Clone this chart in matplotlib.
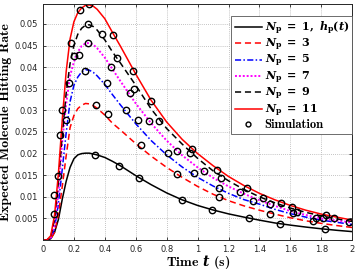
import numpy as np
import matplotlib
matplotlib.use("Agg")
import matplotlib.pyplot as plt

plt.rcParams["mathtext.fontset"] = "custom"
plt.rcParams["mathtext.rm"] = "DejaVu Serif:bold"
plt.rcParams["mathtext.it"] = "DejaVu Serif:italic:bold"
plt.rcParams["mathtext.bf"] = "DejaVu Serif:bold"

t = [0, 0.025, 0.05, 0.075, 0.1, 0.125, 0.15, 0.175, 0.2, 0.225, 0.25, 0.275, 0.3,
     0.325, 0.35, 0.4, 0.45, 0.5, 0.6, 0.7, 0.8, 0.9, 1.0, 1.1, 1.2, 1.3, 1.4, 1.5,
     1.6, 1.7, 1.8, 1.9, 2.0]

# analytical curves, values x 1e-3
n1 = [0, 0, 0.3, 1.8, 4.8, 9.5, 13.6, 16.8, 18.8, 19.7, 20.0, 20.1, 20.1,
      19.9, 19.7, 19.1, 18.2, 17.2, 14.9, 12.8, 10.9, 9.3, 8.0, 6.95, 6.05, 5.3, 4.6, 3.95,
      3.45, 3.0, 2.6, 2.25, 1.95]
n3 = [0, 0, 0.2, 1.8, 6.0, 12.5, 19.5, 26.0, 28.8, 30.4, 31.2, 31.6, 31.5,
      31.1, 30.5, 28.9, 27.0, 25.5, 22.3, 19.4, 16.8, 14.5, 12.4, 10.6, 9.1, 7.9, 6.9, 6.0,
      5.15, 4.45, 3.85, 3.35, 2.9]
n5 = [0, 0, 0.3, 2.8, 8.5, 16.5, 24.8, 32.0, 35.8, 37.7, 38.9, 39.4, 39.3,
      38.8, 38.0, 36.0, 33.6, 31.3, 26.9, 23.0, 19.7, 16.9, 14.5, 12.5, 10.8, 9.35, 8.3, 7.1,
      6.1, 5.3, 4.6, 4.1, 3.6]
n7 = [0, 0, 0.5, 3.8, 11.0, 23.0, 31.5, 38.0, 41.2, 43.5, 44.9, 45.5, 45.6,
      45.2, 44.4, 42.2, 39.5, 36.8, 31.6, 27.0, 23.0, 19.6, 16.8, 14.4, 12.4, 10.7, 9.2, 7.9,
      6.7, 5.8, 5.0, 4.5, 4.05]
n9 = [0, 0, 0.7, 4.8, 13.5, 24.5, 34.0, 40.8, 45.0, 47.6, 49.0, 49.7, 49.8,
      49.4, 48.6, 46.3, 43.5, 41.0, 35.8, 30.3, 25.8, 22.2, 18.9, 16.0, 13.7, 11.7, 10.0, 8.6,
      7.4, 6.4, 5.6, 4.9, 4.3]
n11 = [0, 0, 1.0, 5.8, 15.5, 28.0, 39.0, 46.5, 50.5, 52.6, 53.7, 54.3, 54.4,
       54.1, 53.4, 51.2, 48.0, 44.9, 38.4, 32.3, 27.3, 23.3, 20.0, 17.2, 14.7, 12.6, 10.8, 9.3,
       8.0, 6.9, 6.0, 5.3, 4.6]

# simulation points (t, value x 1e-3)
sim_t = [0.338, 0.494, 0.621, 0.90, 1.095, 1.333, 1.53, 1.825,
         0.343, 0.419, 0.632, 0.865, 1.139, 1.465, 1.746,
         0.147, 0.272, 0.412, 0.537, 0.617, 0.811, 0.977, 1.141, 1.361, 1.616, 1.767,
         0.123, 0.2, 0.293, 0.44, 0.563, 0.688, 0.865, 1.042, 1.275, 1.469, 1.642, 1.808, 1.98,
         0.17, 0.231, 0.289, 0.38, 0.481, 0.591, 0.751, 0.951, 1.15, 1.318, 1.54, 1.61, 1.879,
         0.071, 0.071, 0.099, 0.11, 0.181, 0.24, 0.300, 0.451, 0.58, 0.699, 0.962, 1.128, 1.422, 1.832]
sim_v = [19.7, 17.2, 14.4, 9.3, 6.9, 5.0, 3.6, 2.5,
         31.3, 29.2, 22.1, 15.2, 10.0, 6.0, 4.4,
         27.8, 39.0, 36.4, 30.2, 27.8, 20.1, 15.4, 12.0, 9.0, 6.2, 5.2,
         30.1, 42.6, 45.7, 40.1, 34.1, 27.6, 20.6, 16.0, 11.2, 8.3, 6.6, 5.2, 4.1,
         36.3, 42.8, 50.0, 47.6, 42.2, 34.9, 27.6, 20.1, 14.4, 12.0, 8.6, 7.7, 5.2,
         6.0, 10.4, 14.9, 24.4, 45.5, 53.2, 54.5, 47.5, 39.2, 32.2, 21.1, 16.2, 9.8, 5.8]

labels = [r"$N_\mathrm{p}\;=\;1,\;h_\mathrm{p}(t)$", r"$N_\mathrm{p}\;=\;3$", r"$N_\mathrm{p}\;=\;5$",
          r"$N_\mathrm{p}\;=\;7$", r"$N_\mathrm{p}\;=\;9$", r"$N_\mathrm{p}\;=\;11$"]

fig = plt.figure(figsize=(3.6, 2.7), dpi=100)
ax = fig.add_axes([0.1194, 0.111, 0.859, 0.874])

t = np.array(t)
ax.plot(t, np.array(n1) * 1e-3, color="black", ls="-", lw=1.1, label=labels[0])
ax.plot(t, np.array(n3) * 1e-3, color="red", ls=(0, (4, 2.5)), lw=1.1, label=labels[1])
ax.plot(t, np.array(n5) * 1e-3, color="blue", ls=(0, (4, 1.5, 1, 1.5)), lw=1.1, label=labels[2])
ax.plot(t, np.array(n7) * 1e-3, color="magenta", ls=(0, (1, 1)), lw=1.4, label=labels[3])
ax.plot(t, np.array(n9) * 1e-3, color="black", ls=(0, (4, 2.5)), lw=1.1, label=labels[4])
ax.plot(t, np.array(n11) * 1e-3, color="red", ls="-", lw=1.1, label=labels[5])
ax.plot(sim_t, np.array(sim_v) * 1e-3, ls="none", marker="o", ms=4.6, mfc="none",
        mec="black", mew=1.0, label="Simulation")

ax.set_xlim(0, 2)
ax.set_ylim(0, 0.0546)
ax.set_xticks(np.arange(0, 2.01, 0.2))
ax.set_xticklabels(["0", "0.2", "0.4", "0.6", "0.8", "1", "1.2", "1.4", "1.6", "1.8", "2"])
ax.set_yticks(np.arange(0.005, 0.0501, 0.005))
ax.set_yticklabels(["0.005", "0.01", "0.015", "0.02", "0.025", "0.03", "0.035", "0.04", "0.045", "0.05"])
ax.tick_params(labelsize=6, direction="in", length=2.5, top=True, right=True,
               colors="#262626", width=0.6)
ax.grid(True, ls=(0, (1, 1.5)), color="#b0b0b0", lw=0.6)
for s in ax.spines.values():
    s.set_linewidth(0.7)
    s.set_color("#262626")

ax.set_xlabel(r"Time $t$ (s)", fontname="cmb10", fontsize=10, labelpad=-1)
ax.set_ylabel("Expected Molecule Hitting Rate", fontname="cmb10", fontsize=10, labelpad=1.5)

leg = ax.legend(loc="upper right", bbox_to_anchor=(1.0, 0.95), borderaxespad=0,
                handlelength=2.5, handletextpad=0.2, labelspacing=0.0,
                borderpad=0.3, fancybox=False, framealpha=1, edgecolor="#555555",
                prop={"family": "cmb10", "size": 8})
leg.get_frame().set_linewidth(0.6)
leg.get_texts()[-1].set_fontsize(9)
leg.legend_handles[-1].set_markersize(3.5)

fig.savefig("out.png", dpi=100)
